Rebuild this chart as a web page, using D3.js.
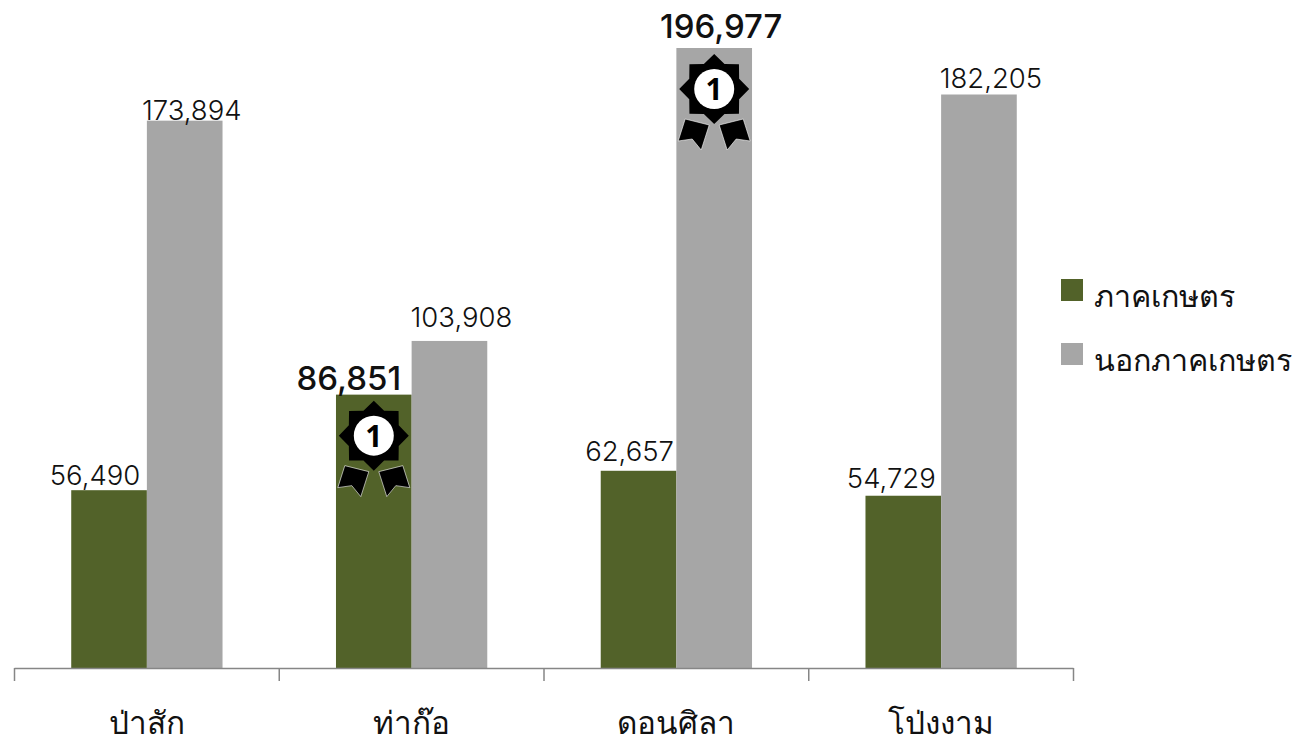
<!DOCTYPE html>
<html>
<head>
<meta charset="utf-8">
<script src="https://cdn.jsdelivr.net/npm/d3@7.9.0/dist/d3.min.js"></script>
<style>
  html, body { margin: 0; background: #fff; overflow: hidden; }
  text { font-family: "Noto Sans", "Open Sans", sans-serif; font-weight: 300; fill: #111; }
  text.val { font-family: Inter, "Noto Sans", sans-serif; }
</style>
</head>
<body>
<svg width="1296" height="738"></svg>
<script>
const districts = ["ป่าสัก", "ท่าก๊อ", "ดอนศิลา", "โป่งงาม"];
const seriesNames = ["ภาคเกษตร", "นอกภาคเกษตร"];
const farmValues = [56490, 86851, 62657, 54729];
const nonFarmValues = [173894, 103908, 196977, 182205];
const seriesColors = ["#526229", "#a6a6a6"];

// label shift from bar centre and bar top, the original labels were hand placed
const farmNudge = [-14, -25, -9, -12];
const nonFarmNudge = [7, 12, 7, 12];
const farmLift = [5, 5, 10, 8];
const nonFarmLift = [1, 14, 10, 6];

const svg = d3.select("svg");
const baseY = 668;

const x = d3.scaleBand().domain(districts).range([14.5, 1073.5]);
const xBar = d3.scaleBand().domain(seriesNames).range([0, x.bandwidth()]).paddingOuter(0.75);
const y = d3.scaleLinear().domain([0, 196977]).range([baseY, 48]);

const rows = districts.map((d, i) => ({
    district: d,
    bars: [
        { name: seriesNames[0], value: farmValues[i], nudge: farmNudge[i], lift: farmLift[i] },
        { name: seriesNames[1], value: nonFarmValues[i], nudge: nonFarmNudge[i], lift: nonFarmLift[i] }
    ]
}));

// bars
const groups = svg.selectAll(".group").data(rows).enter().append("g")
    .attr("class", "group")
    .attr("transform", d => `translate(${x(d.district)},0)`);

groups.selectAll("rect").data(d => d.bars).enter().append("rect")
    .attr("x", d => xBar(d.name))
    .attr("y", d => y(d.value))
    .attr("width", xBar.bandwidth())
    .attr("height", d => baseY - y(d.value))
    .attr("fill", (d, i) => seriesColors[i]);

// the winner of each group of columns gets the big label and a medal
const isTop = d => d.value === 86851 || d.value === 196977;

groups.selectAll(".val").data(d => d.bars).enter().append("text")
    .attr("class", "val")
    .attr("x", d => xBar(d.name) + xBar.bandwidth() / 2 + d.nudge)
    .attr("y", d => y(d.value) - d.lift)
    .attr("text-anchor", "middle")
    .style("font-size", d => isTop(d) ? "33px" : "27.5px")
    .style("font-weight", d => isTop(d) ? 500 : 300)
    .text(d => d3.format(",")(d.value));

// medal
const star = d3.lineRadial().curve(d3.curveLinearClosed)
    .angle(d => d[0]).radius(d => d[1]);
const starPts = d3.range(16).map(i => [i * Math.PI / 8, i % 2 ? 27 : 35]);
const ribbon = [[-29, 30], [-5, 36], [-13, 61], [-22, 50], [-36, 52]];

const medals = groups.selectAll(".medal").data(d => d.bars.filter(isTop)).enter().append("g")
    .attr("class", "medal")
    .attr("transform", d => `translate(${xBar(d.name) + xBar.bandwidth() / 2},${y(d.value) + 41})`);

medals.append("path").attr("d", star(starPts)).attr("fill", "#000");
medals.append("circle").attr("r", 20).attr("fill", "#fff");
medals.append("text").attr("y", 11).attr("text-anchor", "middle")
    .style("font-size", "30px").style("font-weight", 700).style("fill", "#000").text("1");
[1, -1].forEach(s => {
    medals.append("path")
        .attr("d", d3.line()(ribbon.map(p => [p[0] * s, p[1]])) + "Z")
        .attr("fill", "#000")
        .attr("stroke", "#fff")
        .attr("stroke-width", 0.6);
});

// axis: ticks sit on the band edges, labels in the middle
const edges = districts.map(d => x(d)).concat(x.range()[1]);
svg.append("line").attr("x1", x.range()[0]).attr("x2", x.range()[1])
    .attr("y1", baseY + 0.5).attr("y2", baseY + 0.5).attr("stroke", "#868686").attr("stroke-width", 1.5);
svg.selectAll(".tick-edge").data(edges).enter().append("line")
    .attr("class", "tick-edge")
    .attr("x1", d => d).attr("x2", d => d)
    .attr("y1", baseY).attr("y2", baseY + 13)
    .attr("stroke", "#868686").attr("stroke-width", 1.5);

const axis = svg.append("g").attr("transform", `translate(0,${baseY})`)
    .call(d3.axisBottom(x).tickSize(0).tickPadding(36));
axis.select(".domain").remove();
axis.selectAll("text")
    .attr("y", null).attr("dy", null)
    .attr("transform", "translate(0,66)")
    .attr("fill", null)
    .style("font-size", "31.5px");

// legend
const legend = svg.selectAll(".legend").data(seriesNames).enter().append("g")
    .attr("class", "legend")
    .attr("transform", (d, i) => `translate(1061,${279 + i * 64})`);
legend.append("rect").attr("width", 22).attr("height", 22).attr("fill", (d, i) => seriesColors[i]);
legend.append("text").attr("x", 33).attr("y", 28).style("font-size", "30.4px").text(d => d);
</script>
</body>
</html>
